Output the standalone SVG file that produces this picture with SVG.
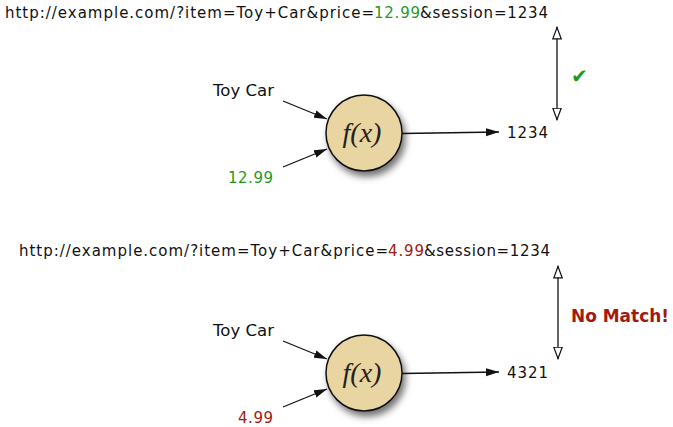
<svg xmlns="http://www.w3.org/2000/svg" width="673" height="427" viewBox="0 0 673 427">
<style>
text{font-family:"DejaVu Sans","Liberation Sans",sans-serif;font-size:15px;fill:#111}
.g{fill:#1f9a1f}
.r{fill:#a3190f}
.fx{font-family:"Liberation Serif","DejaVu Serif",serif;font-style:italic;font-size:28px;text-anchor:middle;fill:#222}
.ln{stroke:#111;stroke-width:1.3;fill:none}
.arr{marker-end:url(#fill)}
.dbl{marker-start:url(#hollowS);marker-end:url(#hollowE)}
.node circle{fill:#e9d5a2;stroke:#111;stroke-width:1.5;filter:url(#sh)}
.nm{font-weight:bold;font-size:17px;fill:#a3190f}
</style>
<defs>
<marker id="fill" markerUnits="userSpaceOnUse" markerWidth="14" markerHeight="10" refX="13" refY="5" orient="auto">
<path d="M0,1 L13,5 L0,9 Z" fill="#111"/>
</marker>
<marker id="hollowE" markerUnits="userSpaceOnUse" markerWidth="14" markerHeight="12" refX="12.5" refY="6" orient="auto">
<path d="M0.7,1.8 L12,6 L0.7,10.2 Z" fill="#fff" stroke="#111" stroke-width="1.2"/>
</marker>
<marker id="hollowS" markerUnits="userSpaceOnUse" markerWidth="14" markerHeight="12" refX="1.5" refY="6" orient="auto">
<path d="M13.3,1.8 L2,6 L13.3,10.2 Z" fill="#fff" stroke="#111" stroke-width="1.2"/>
</marker>
<filter id="sh" x="-30%" y="-30%" width="170%" height="170%">
<feDropShadow dx="3" dy="5" stdDeviation="3.5" flood-color="#000" flood-opacity="0.55"/>
</filter>
</defs>

<g id="url1">
<text x="5" y="18" textLength="369" lengthAdjust="spacing">http://example.com/?item=Toy+Car&amp;price=</text>
<text x="374" y="18" class="g" textLength="46" lengthAdjust="spacing">12.99</text>
<text x="420" y="18" textLength="128" lengthAdjust="spacing">&amp;session=1234</text>
</g>

<g id="url2">
<text x="19" y="256" textLength="369" lengthAdjust="spacing">http://example.com/?item=Toy+Car&amp;price=</text>
<text x="388" y="256" class="r" textLength="36" lengthAdjust="spacing">4.99</text>
<text x="424" y="256" textLength="126" lengthAdjust="spacing">&amp;session=1234</text>
</g>

<g id="node1" class="node">
<circle cx="364" cy="133" r="38"/>
<text class="fx" x="362" y="142">f(x)</text>
</g>
<g id="node2" class="node">
<circle cx="364" cy="373" r="38"/>
<text class="fx" x="362" y="382">f(x)</text>
</g>

<g id="labels">
<text x="213" y="96" textLength="61" lengthAdjust="spacingAndGlyphs">Toy Car</text>
<text x="228" y="183" class="g" textLength="45" lengthAdjust="spacing">12.99</text>
<text x="507" y="138" textLength="41" lengthAdjust="spacing">1234</text>
<text x="213" y="336" textLength="61" lengthAdjust="spacingAndGlyphs">Toy Car</text>
<text x="238" y="423" class="r" textLength="35" lengthAdjust="spacing">4.99</text>
<text x="507" y="378" textLength="41" lengthAdjust="spacing">4321</text>
<text x="571" y="83" class="g" style="font-size:20px">✔</text>
<text x="571" y="322" class="nm" textLength="98" lengthAdjust="spacingAndGlyphs">No Match!</text>
</g>

<g id="connectors">
<line class="ln arr" x1="283" y1="101" x2="327" y2="119"/>
<line class="ln arr" x1="283" y1="167" x2="327" y2="149"/>
<line class="ln arr" x1="402" y1="133.5" x2="499" y2="132"/>
<line class="ln dbl" x1="557" y1="27" x2="557" y2="120"/>
<line class="ln arr" x1="283" y1="341" x2="327" y2="359"/>
<line class="ln arr" x1="283" y1="407" x2="327" y2="389"/>
<line class="ln arr" x1="402" y1="373.5" x2="499" y2="372"/>
<line class="ln dbl" x1="558" y1="266" x2="558" y2="359"/>
</g>
</svg>
